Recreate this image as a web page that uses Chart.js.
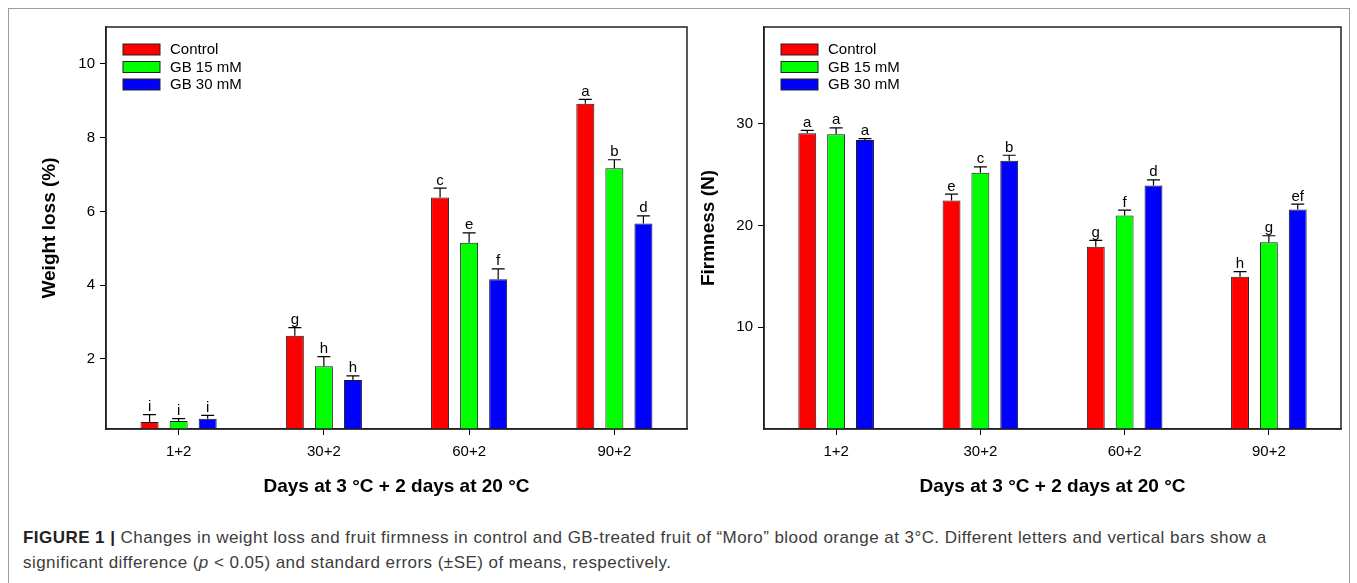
<!DOCTYPE html>
<html>
<head>
<meta charset="utf-8">
<script src="https://cdn.jsdelivr.net/npm/chart.js@4.4.0/dist/chart.umd.min.js"></script>
<style>
body { margin: 0; background: #fff; }
#page { position: relative; width: 1357px; height: 583px; overflow: hidden; font-family: "Liberation Sans", Arial, sans-serif; }
#frame { position: absolute; left: 8px; top: 8px; width: 1340px; height: 600px; border: 1px solid #9c9c9c; border-bottom: none; }
canvas { position: absolute; top: 10px; }
#c1 { left: 10px; }
#c2 { left: 690px; }
#caption { position: absolute; left: 23px; top: 525px; font-size: 17px; letter-spacing: 0.45px; line-height: 25px; color: #3c3c3c; white-space: nowrap; }
</style>
</head>
<body>
<div id="page">
  <div id="frame"></div>
  <canvas id="c1" width="680" height="500"></canvas>
  <canvas id="c2" width="660" height="500"></canvas>
  <div id="caption"><b style="color:#222">FIGURE 1 |</b> Changes in weight loss and fruit firmness in control and GB-treated fruit of “Moro” blood orange at 3°C. Different letters and vertical bars show a<br>significant difference (<i>p</i> &lt; 0.05) and standard errors (±SE) of means, respectively.</div>
</div>
<script>
// categories and series
const days = ['1+2', '30+2', '60+2', '90+2'];
const treatments = ['Control', 'GB 15 mM', 'GB 30 mM'];
const colors = ['#ff0000', '#00ff00', '#0000ff'];

// weight loss (%)
const lossControl = [0.29, 2.63, 6.38, 8.92];
const lossGB15 = [0.32, 1.80, 5.15, 7.17];
const lossGB30 = [0.38, 1.43, 4.16, 5.67];
const lossSEControl = [0.20, 0.22, 0.25, 0.12];
const lossSEGB15 = [0.06, 0.26, 0.27, 0.23];
const lossSEGB30 = [0.09, 0.11, 0.28, 0.21];
const lossLetters = [['i', 'g', 'c', 'a'], ['i', 'h', 'e', 'b'], ['i', 'h', 'f', 'd']];
const lossTicks = [2, 4, 6, 8, 10];

// firmness (N)
const firmControl = [29.05, 22.45, 17.91, 14.97];
const firmGB15 = [28.95, 25.17, 20.98, 18.36];
const firmGB30 = [28.40, 26.37, 23.92, 21.57];
const firmSEControl = [0.30, 0.62, 0.62, 0.49];
const firmSEGB15 = [0.63, 0.58, 0.52, 0.63];
const firmSEGB30 = [0.13, 0.53, 0.56, 0.53];
const firmLetters = [['a', 'e', 'g', 'h'], ['a', 'c', 'f', 'g'], ['a', 'b', 'd', 'ef']];
const firmTicks = [10, 20, 30];

Chart.defaults.font.family = '"Liberation Sans", Arial, sans-serif';
Chart.defaults.color = '#000';

// error bars, letters, frame box and legend
const extras = {
    id: 'extras',
    afterDatasetsDraw(chart) {
        const ctx = chart.ctx
        const y = chart.scales.y
        const a = chart.chartArea
        ctx.save()
        chart.data.datasets.forEach((ds, i) => {
            chart.getDatasetMeta(i).data.forEach((bar, j) => {
                const top = y.getPixelForValue(ds.data[j] + ds.se[j])
                const base = y.getPixelForValue(ds.data[j])
                ctx.strokeStyle = '#000'
                ctx.lineWidth = 1.2
                ctx.beginPath()
                ctx.moveTo(bar.x, base)
                ctx.lineTo(bar.x, top)
                ctx.moveTo(bar.x - 6.5, top)
                ctx.lineTo(bar.x + 6.5, top)
                ctx.stroke()
                ctx.fillStyle = '#000'
                ctx.font = '15px "Liberation Sans", Arial, sans-serif'
                ctx.textAlign = 'center'
                ctx.textBaseline = 'alphabetic'
                ctx.fillText(ds.marks[j], bar.x, top - 3.5)
            })
        })
        ctx.strokeStyle = '#222'
        ctx.lineWidth = 1.5
        ctx.strokeRect(a.left, a.top, a.right - a.left, a.bottom - a.top)

        chart.data.datasets.forEach((ds, i) => {
            const lx = a.left + 17
            const ly = a.top + 17 + i * 17.5
            ctx.fillStyle = ds.backgroundColor
            ctx.fillRect(lx, ly, 37, 11)
            ctx.lineWidth = 1
            ctx.strokeStyle = '#222'
            ctx.strokeRect(lx, ly, 37, 11)
            ctx.fillStyle = '#000'
            ctx.font = '15px "Liberation Sans", Arial, sans-serif'
            ctx.textAlign = 'left'
            ctx.textBaseline = 'middle'
            ctx.fillText(ds.label, lx + 47, ly + 6)
        })
        ctx.restore()
    }
}

function makeChart(id, series, errs, marks, yMin, yMax, yTicks, yTitle, yWidth, yTitlePad, padRight) {
    return new Chart(document.getElementById(id), {
        type: 'bar',
        data: {
            labels: days,
            datasets: treatments.map((t, i) => ({
                label: t,
                data: series[i],
                se: errs[i],
                marks: marks[i],
                backgroundColor: colors[i],
                borderColor: '#1a1a1a',
                borderWidth: 1,
                categoryPercentage: 0.6,
                barPercentage: 0.62
            }))
        },
        options: {
            responsive: false,
            animation: false,
            devicePixelRatio: 1,
            layout: { padding: { top: 17, right: padRight, left: 0, bottom: 0 } },
            plugins: { legend: { display: false }, tooltip: { enabled: false } },
            scales: {
                x: {
                    grid: { drawOnChartArea: false, offset: false, tickLength: 6, tickColor: '#000', tickWidth: 1 },
                    border: { color: '#222', width: 1.5 },
                    ticks: { padding: 8, color: '#000', font: { size: 15 } },
                    title: {
                        display: true, text: 'Days at 3 °C + 2 days at 20 °C', color: '#000',
                        font: { size: 19, weight: 'bold' }, padding: { top: 0, bottom: 12 }
                    },
                    afterFit: s => { s.height = 81 }
                },
                y: {
                    min: yMin,
                    max: yMax,
                    grid: { drawOnChartArea: false, tickLength: 6, tickColor: '#000', tickWidth: 1 },
                    border: { color: '#222', width: 1.5 },
                    ticks: { padding: 5, color: '#000', font: { size: 15 }, autoSkip: false },
                    afterBuildTicks: s => { s.ticks = yTicks.map(v => ({ value: v })) },
                    title: {
                        display: true, text: yTitle, color: '#000',
                        font: { size: 19, weight: 'bold' }, padding: { top: yTitlePad, bottom: 0 }
                    },
                    afterFit: s => { s.width = yWidth }
                }
            }
        },
        plugins: [extras]
    });
}

makeChart('c1', [lossControl, lossGB15, lossGB30], [lossSEControl, lossSEGB15, lossSEGB30], lossLetters,
    0.1, 11, lossTicks, 'Weight loss (%)', 96, 28, 3);
makeChart('c2', [firmControl, firmGB15, firmGB30], [firmSEControl, firmSEGB15, firmSEGB30], firmLetters,
    0, 39.5, firmTicks, 'Firmness (N)', 74, 7, 9);
</script>
</body>
</html>
